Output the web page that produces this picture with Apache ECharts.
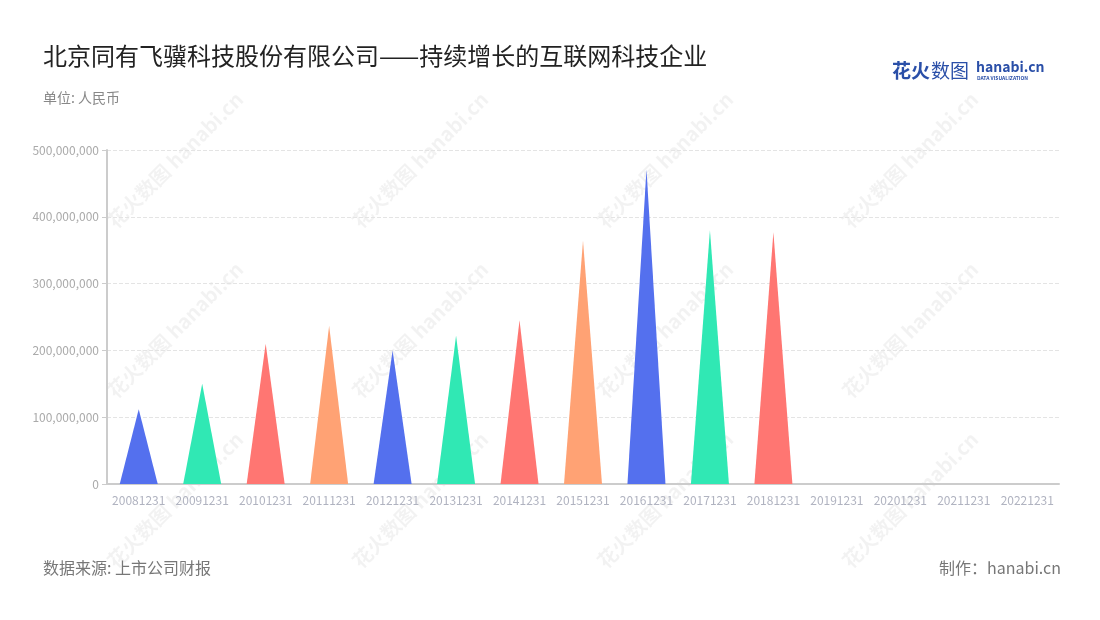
<!DOCTYPE html>
<html><head><meta charset="utf-8">
<script src="https://cdn.jsdelivr.net/npm/echarts@6/dist/echarts.min.js"></script>
<style>html,body{margin:0;padding:0;background:#fff}#c{width:1100px;height:620px}</style>
</head><body><div id="c"></div>
<script>
const categories = ['20081231','20091231','20101231','20111231','20121231','20131231','20141231','20151231','20161231','20171231','20181231','20191231','20201231','20211231','20221231'];
const values = [112000000,150000000,210000000,237000000,200000000,222000000,245000000,364000000,471000000,380000000,377000000,null,null,null,null];
const palette = ['#5470ee','#30e8b4','#ff7672','#ffa274'];
const yTicks = [0,100000000,200000000,300000000,400000000,500000000];

const FONT = '"Noto Sans CJK SC","Noto Sans",sans-serif';
const chart = echarts.init(document.getElementById('c'));

const wm = [];
const wmX = [175, 420, 665, 910];
const wmY = [160, 330, 500];
wmY.forEach(y => wmX.forEach(x => {
  wm.push({type:'text', x:x, y:y, rotation: Math.PI/4, z:-1, silent:true,
    style:{text:'花火数图 hanabi.cn', fill:'rgba(0,0,0,0.05)', font:'bold 20px '+FONT, align:'center', verticalAlign:'middle'}});
}));

chart.setOption({
  animation:false,
  textStyle:{fontFamily:FONT},
  title:[
    {text:'北京同有飞骥科技股份有限公司——持续增长的互联网科技企业', left:38, top:39,
     textStyle:{fontSize:24, fontWeight:'normal', color:'#222', fontFamily:FONT}},
    {text:'单位: 人民币', left:38, top:86, textStyle:{fontSize:14, fontWeight:'normal', color:'#888', fontFamily:FONT}},
    {text:'数据来源: 上市公司财报', left:38, top:555, textStyle:{fontSize:16, fontWeight:'normal', color:'#777', fontFamily:FONT}},
    {text:'制作：hanabi.cn', right:34, top:555, textStyle:{fontSize:16, fontWeight:'normal', color:'#777', fontFamily:FONT}}
  ],
  graphic: wm.concat([
    {type:'text', left:892, top:61, style:{text:'花火', fill:'#2a4fa8', font:'bold 19px '+FONT}},
    {type:'text', left:931, top:61, style:{text:'数图', fill:'#2a4fa8', font:'19px '+FONT}},
    {type:'text', left:976, top:60, style:{text:'hanabi.cn', fill:'#2a4fa8', font:'bold 14px '+FONT}},
    {type:'text', left:977, top:76, style:{text:'DATA VISUALIZATION', fill:'#2a4fa8', font:'bold 5px '+FONT}}
  ]),
  grid:{left:107, right:41, top:150, bottom:136, containLabel:false},
  xAxis:{type:'category', data:categories,
    axisLine:{lineStyle:{color:'#ccc', width:2}},
    axisTick:{alignWithLabel:true, lineStyle:{color:'#ccc'}},
    axisLabel:{color:'#b0b3c0', fontSize:12, margin:10, interval:0}},
  yAxis:{type:'value', min:0, max:500000000, interval:100000000,
    axisLine:{show:true, lineStyle:{color:'#ccc', width:2}},
    axisTick:{show:true, lineStyle:{color:'#ccc'}},
    axisLabel:{color:'#aaa', fontSize:12, formatter: v => v.toLocaleString('en-US')},
    splitLine:{lineStyle:{type:'dashed', color:'#e4e4e4'}}},
  series:[{type:'pictorialBar', symbol:'path://M0,100 L50,0 L100,100 Z', symbolSize:[38,'100%'],
    data: values.map((v,i) => ({value:v, itemStyle:{color:palette[i%4]}}))}]
});
</script></body></html>
